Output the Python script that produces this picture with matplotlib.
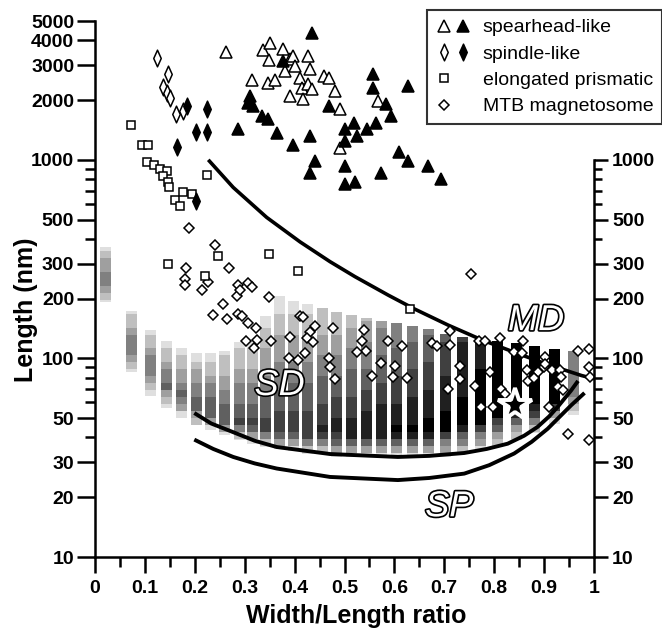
import numpy as np
import matplotlib
matplotlib.use("Agg")
import matplotlib.pyplot as plt
import matplotlib.patheffects as pe
from matplotlib.lines import Line2D
from matplotlib.path import Path
from matplotlib.legend_handler import HandlerTuple
from matplotlib.ticker import FixedLocator, NullFormatter

plt.rcParams['font.family'] = ['Liberation Sans', 'DejaVu Sans']

# ---- grey density columns (width/length ratio, lengths in nm) ----
col_x = [0.021, 0.074, 0.111, 0.143, 0.173, 0.203, 0.231, 0.260, 0.289, 0.316,
         0.341, 0.369, 0.398, 0.426, 0.455, 0.484, 0.514, 0.544, 0.574, 0.604,
         0.637, 0.669, 0.703, 0.737, 0.772, 0.807, 0.844, 0.880, 0.921, 0.959]
col_top = [366, 174, 139, 122, 113, 106, 107, 109, 121, 123,
           164, 205, 195, 187, 180, 172, 166, 160, 155, 150,
           145, 140, 133, 128, 126, 123, 119, 115, 112, 109]
col_bottom = [192, 85, 65, 56, 50, 46, 43.5, 41, 39, 37,
              36, 35, 34, 33, 33, 32, 32, 32, 32, 32,
              32, 32, 32, 33, 34, 36, 39, 42, 47, 52]
col_peak = [250, 115, 88, 72, 63, 58, 54, 50, 48, 46,
            44, 43, 43, 42, 42, 42, 42, 42, 42, 42,
            42, 43, 44, 46, 49, 52, 55, 58, 62, 70]
col_peak_dark = [0.55, 0.55, 0.6, 0.6, 0.62, 0.65, 0.68, 0.7, 0.72, 0.74,
                 0.75, 0.78, 0.8, 0.82, 0.85, 0.88, 0.9, 0.92, 0.94, 0.96,
                 0.98, 1.0, 1.0, 1.0, 1.0, 1.0, 1.0, 1.0, 1.0, 0.55]
col_top_dark = [0.15, 0.15, 0.12, 0.12, 0.12, 0.12, 0.12, 0.12, 0.12, 0.12,
                0.12, 0.12, 0.12, 0.15, 0.18, 0.2, 0.25, 0.3, 0.4, 0.45,
                0.5, 0.55, 0.65, 0.8, 0.9, 0.95, 0.95, 0.95, 0.95, 0.5]

# ---- boundary curves ----
md_x = [0.227, 0.277, 0.344, 0.411, 0.471, 0.521, 0.588, 0.641, 0.708, 0.775, 0.842, 0.908, 0.975, 1.0]
md_len = [1000, 726, 513, 386, 307, 258, 208, 177, 147, 124, 107, 93, 82, 79]
sd_x = [0.199, 0.233, 0.267, 0.320, 0.364, 0.471, 0.607, 0.670, 0.740, 0.785, 0.827, 0.860,
        0.887, 0.910, 0.927, 0.954, 0.968]
sd_len = [53.1, 47.0, 43.5, 38.5, 35.8, 33.0, 31.9, 32.3, 33.4, 35.0, 37.2, 40.8,
          45.2, 51.0, 56.9, 68.9, 77]
sp_x = [0.199, 0.237, 0.277, 0.320, 0.364, 0.471, 0.607, 0.670, 0.740, 0.790, 0.840, 0.875,
        0.907, 0.954, 0.981]
sp_len = [39.0, 35.0, 31.9, 29.6, 27.9, 25.3, 24.4, 25.0, 26.3, 29.0, 33.2, 38.0,
          44.2, 58.0, 67.0]

# ---- scatter data ----
spear_open_x = [0.263, 0.314, 0.337, 0.351, 0.349, 0.347, 0.361, 0.377, 0.381, 0.391, 0.397, 0.401,
                0.391, 0.411, 0.414, 0.417, 0.427, 0.431, 0.427, 0.434, 0.458, 0.468, 0.480, 0.490,
                0.567, 0.490]
spear_open_len = [3500, 2524, 3557, 3882, 3170, 2445, 2524, 3597, 2800, 3206, 3334, 2966,
                  2097, 2594, 2308, 2019, 3334, 2856, 2400, 2264, 2643, 2575, 2223, 1798,
                  1977, 1153]
spear_fill_x = [0.434, 0.311, 0.307, 0.317, 0.334, 0.347, 0.364, 0.287, 0.397, 0.431, 0.441, 0.431,
                0.377, 0.468, 0.557, 0.557, 0.627, 0.583, 0.593, 0.520, 0.563, 0.501, 0.546, 0.526,
                0.501, 0.610, 0.627, 0.667, 0.501, 0.573, 0.693, 0.501, 0.521]
spear_fill_len = [4363, 2097, 1942, 1868, 1663, 1600, 1371, 1426, 1189, 1320, 988, 863,
                  3142, 1868, 2696, 2293, 2354, 1905, 1663, 1540, 1540, 1426, 1426, 1320,
                  1245, 1101, 988, 933, 933, 863, 800, 755, 769]
spindle_open_x = [0.124, 0.147, 0.137, 0.144, 0.150, 0.162, 0.177]
spindle_open_len = [3268, 2716, 2327, 2178, 2055, 1697, 1763]
spindle_fill_x = [0.184, 0.225, 0.202, 0.224, 0.164, 0.202]
spindle_fill_len = [1868, 1798, 1383, 1383, 1162, 622]
prism_x = [0.072, 0.094, 0.107, 0.104, 0.119, 0.130, 0.144, 0.137, 0.147, 0.148, 0.160, 0.170,
           0.176, 0.194, 0.224, 0.147, 0.247, 0.220, 0.349, 0.407, 0.631]
prism_len = [1500, 1185, 1185, 980, 944, 898, 881, 832, 775, 726, 627, 587,
             691, 673, 841, 299, 327, 261, 336, 275, 178]
mtb_x = [0.188, 0.240, 0.182, 0.180, 0.180, 0.227, 0.214, 0.269, 0.287, 0.307, 0.314, 0.284,
         0.291, 0.349, 0.256, 0.237, 0.264, 0.287, 0.294, 0.411, 0.417, 0.306, 0.322, 0.302,
         0.324, 0.319, 0.352, 0.391, 0.389, 0.406, 0.421, 0.431, 0.425, 0.437, 0.441, 0.468,
         0.471, 0.476, 0.481, 0.540, 0.536, 0.544, 0.526, 0.574, 0.601, 0.588, 0.615, 0.556,
         0.598, 0.625, 0.675, 0.685, 0.711, 0.711, 0.707, 0.731, 0.731, 0.753, 0.770, 0.782,
         0.812, 0.858, 0.840, 0.855, 0.902, 0.865, 0.900, 0.888, 0.916, 0.932, 0.967, 0.990,
         0.990, 0.992, 0.934, 0.792, 0.762, 0.774, 0.798, 0.814, 0.822, 0.867, 0.880, 0.902,
         0.910, 0.927, 0.938, 0.947, 0.989]
mtb_len = [454, 373, 284, 251, 235, 242, 220, 284, 235, 239, 228, 207,
           220, 203, 187, 166, 158, 168, 164, 164, 161, 150, 142, 122,
           124, 113, 122, 128, 101, 98, 106, 136, 127, 121, 145, 101,
           90, 142, 79, 139, 122, 109, 108, 95, 92, 122, 116, 82,
           81, 80, 119, 116, 137, 117, 70, 92, 79, 267, 123, 122,
           126, 122, 108, 106, 102, 87, 91, 85, 87, 87, 109, 111,
           90, 81, 81, 85, 73, 57, 57, 70, 66, 77, 80, 94,
           57, 72, 69, 41.5, 39]
star_x = [0.842]
star_len = [58]

# narrow diamond for spindle-like crystals
spindle = Path([(0, 1), (0.45, 0), (0, -1), (-0.45, 0), (0, 1)],
               [Path.MOVETO, Path.LINETO, Path.LINETO, Path.LINETO, Path.CLOSEPOLY])

fig = plt.figure(figsize=(6.62, 6.31), dpi=100)
ax = fig.add_axes([95 / 662, 1 - 557 / 631, 499 / 662, 536 / 631])
ax.set_yscale('log')
ax.set_xlim(0, 1)
ax.set_ylim(10, 5000)

# columns built from log bins with stepped grey levels
edges = np.arange(1.0, 2.8, 0.035)
bx, bb, bh, bc = [], [], [], []
for i in range(len(col_x)):
    lo, hi, pk = np.log10(col_bottom[i]), np.log10(col_top[i]), np.log10(col_peak[i])
    for a, b in zip(edges[:-1], edges[1:]):
        a2, b2 = max(a, lo), min(b, hi)
        if b2 <= a2:
            continue
        t = 0.5 * (a2 + b2)
        if t >= pk:
            d = col_top_dark[i] + (col_peak_dark[i] - col_top_dark[i]) * (hi - t) / (hi - pk)
        else:
            d = 0.08 + (col_peak_dark[i] - 0.08) * (t - lo) / (pk - lo)
        d = max(0.1, np.round(d * 8) / 8)
        g = 1 - min(d, 1.0)
        bx.append(col_x[i])
        bb.append(10 ** a2)
        bh.append(10 ** b2 - 10 ** a2)
        bc.append((g, g, g))
ax.bar(bx, bh, bottom=bb, width=0.022, color=bc, linewidth=0, zorder=1)

ax.plot(md_x, md_len, color='black', lw=2.6, zorder=3, solid_capstyle='butt')
ax.plot(sd_x, sd_len, color='black', lw=2.8, zorder=3, solid_capstyle='butt')
ax.plot(sp_x, sp_len, color='black', lw=2.8, zorder=3, solid_capstyle='butt')

ax.plot(mtb_x, mtb_len, ls='none', marker='D', ms=4.8, mfc='white', mec='black', mew=1.1, zorder=4)
ax.plot(prism_x, prism_len, ls='none', marker='s', ms=6.2, mfc='white', mec='black', mew=1.1, zorder=4)
ax.plot(spindle_open_x, spindle_open_len, ls='none', marker=spindle, ms=12, mfc='white', mec='black', mew=1.1, zorder=4)
ax.plot(spindle_fill_x, spindle_fill_len, ls='none', marker=spindle, ms=12, mfc='black', mec='black', mew=1.1, zorder=4)
ax.plot(spear_open_x, spear_open_len, ls='none', marker='^', ms=8.5, mfc='white', mec='black', mew=1.1, zorder=4)
ax.plot(spear_fill_x, spear_fill_len, ls='none', marker='^', ms=8.5, mfc='black', mec='black', mew=1.1, zorder=4)
ax.plot(star_x, star_len, ls='none', marker='*', ms=25, mfc='black', mec='white', mew=2.8, zorder=5)

outline = [pe.withStroke(linewidth=2.4, foreground='black')]
for txt, x, y in [('SD', 0.37, 73), ('MD', 0.884, 155), ('SP', 0.71, 17.9)]:
    ax.text(x, y, txt, fontsize=26, fontstyle='italic', color='white', ha='center', va='center',
            path_effects=outline, zorder=6)

# axes, ticks
major = [10, 20, 30, 50, 100, 200, 300, 500, 1000, 2000, 3000, 4000, 5000]
minor = [40, 60, 70, 80, 90, 400, 600, 700, 800, 900]
ax.set_yticks(major, [str(v) for v in major], fontweight='bold', fontsize=14)
ax.yaxis.set_minor_locator(FixedLocator(minor))
ax.yaxis.set_minor_formatter(NullFormatter())
xt = np.round(np.arange(0, 1.01, 0.1), 1)
ax.set_xticks(xt, ['0' if v == 0 else ('1' if v == 1 else f'{v:.1f}') for v in xt],
              fontweight='bold', fontsize=14)
ax.xaxis.set_minor_locator(FixedLocator(np.arange(0.05, 1, 0.1)))
ax.tick_params(axis='y', which='major', length=13, width=1.8, pad=2)
ax.tick_params(axis='y', which='minor', length=7, width=1.8)
ax.tick_params(axis='x', which='major', length=11.5, width=1.8, pad=5)
ax.tick_params(axis='x', which='minor', length=7, width=1.8)
for s in ['top', 'right']:
    ax.spines[s].set_visible(False)
for s in ['left', 'bottom']:
    ax.spines[s].set_linewidth(1.8)

ax2 = ax.twinx()
ax2.set_yscale('log')
ax2.set_ylim(10, 5000)
rmajor = [10, 20, 30, 50, 100, 200, 300, 500, 1000]
ax2.set_yticks(rmajor, [str(v) for v in rmajor], fontweight='bold', fontsize=14)
ax2.yaxis.set_minor_locator(FixedLocator(minor))
ax2.yaxis.set_minor_formatter(NullFormatter())
ax2.tick_params(axis='y', which='major', length=10, width=1.8, pad=3)
ax2.tick_params(axis='y', which='minor', length=6, width=1.8)
for s in ['top', 'left', 'bottom']:
    ax2.spines[s].set_visible(False)
ax2.spines['right'].set_linewidth(1.8)
ax2.spines['right'].set_bounds(10, 1000)

fig.text(26 / 662, 1 - 310 / 631, 'Length (nm)', rotation=90, ha='center', va='center',
         fontsize=18, fontweight='bold')
fig.text(356 / 662, 1 - 623 / 631, 'Width/Length ratio', ha='center', va='baseline',
         fontsize=18, fontweight='bold')

blank = Line2D([], [], ls='none', marker='none')
handles = [
    (Line2D([], [], ls='none', marker='^', ms=8.5, mfc='white', mec='black', mew=1.1),
     Line2D([], [], ls='none', marker='^', ms=8.5, mfc='black', mec='black', mew=1.1)),
    (Line2D([], [], ls='none', marker=spindle, ms=12, mfc='white', mec='black', mew=1.1),
     Line2D([], [], ls='none', marker=spindle, ms=12, mfc='black', mec='black', mew=1.1)),
    (Line2D([], [], ls='none', marker='s', ms=6.2, mfc='white', mec='black', mew=1.1), blank),
    (Line2D([], [], ls='none', marker='D', ms=4.8, mfc='white', mec='black', mew=1.1), blank),
]
labels = ['spearhead-like', 'spindle-like', 'elongated prismatic', 'MTB magnetosome']
leg = fig.legend(handles, labels, handler_map={tuple: HandlerTuple(ndivide=None, pad=0.2)},
                 loc='upper right', bbox_to_anchor=(1.0, 1 - 10 / 631), frameon=True,
                 fancybox=False, edgecolor='black', fontsize=14, handlelength=1.8,
                 borderpad=0.45, labelspacing=0.45, handletextpad=0.6, borderaxespad=0)
leg.get_frame().set_linewidth(1.5)

fig.savefig('out.png', dpi=100)
